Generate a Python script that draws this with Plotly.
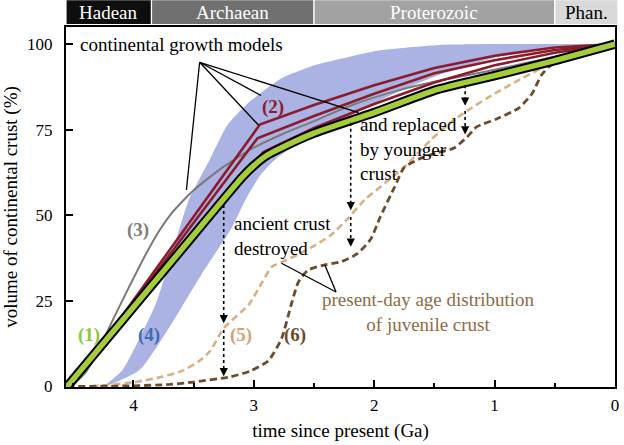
import plotly.graph_objects as go

# ---------------- data ----------------
# (1) green model
GREEN_T = [4.55, 4.3, 3.6, 3.1, 3.0, 2.9, 2.8, 2.5, 2.0, 1.5, 1.0, 0.5, 0.0]
GREEN_V = [0, 10.5, 40, 61, 64.5, 67.3, 69.2, 74, 80, 86.5, 90.8, 95.2, 100]

# (2) three red models (kinked)
RED1_T = [4.3, 2.95, 2.5, 2.0, 1.5, 1.0, 0.5, 0.0]
RED1_V = [10.5, 76.5, 82.2, 88, 93, 96.6, 99, 100]
RED2_T = [4.3, 2.97, 2.5, 2.0, 1.5, 1.0, 0.5, 0.0]
RED2_V = [10.5, 72.5, 79, 85.5, 91.5, 95.3, 98.3, 100]
RED3_T = [4.3, 2.92, 2.5, 2.0, 1.5, 1.0, 0.5, 0.0]
RED3_V = [10.5, 68.5, 75.5, 82.5, 88.8, 93.8, 97.5, 100]

# (3) grey model
GREY_T = [4.52, 4.4, 4.3, 4.18, 4.04, 3.87, 3.78, 3.69, 3.6, 3.5, 3.4, 3.27, 3.15, 3.03,
          2.77, 2.5, 2.2, 1.8, 1.5, 1.0, 0.5, 0.0]
GREY_V = [0, 4, 10, 18.8, 28.8, 40.4, 45.8, 50.3, 53.8, 57.3, 60.2, 63.7, 66.5, 69.2,
          73.6, 77.5, 82, 86.5, 89, 92.5, 96.3, 100]

# (4) blue band
BAND_TOP_T = [4.24, 4.09, 3.95, 3.81, 3.67, 3.54, 3.36, 3.22, 3.04, 2.77, 2.49, 2.22, 1.95, 1.48, 1.0, 0.5, 0.0]
BAND_TOP_V = [0, 4.8, 14, 24.5, 40, 54.5, 66.7, 76.3, 83, 90, 93.9, 96.2, 98.2, 99.7, 100, 100, 100]
BAND_BOT_T = [4.24, 3.95, 3.70, 3.43, 3.18, 3.07, 2.95, 2.8, 2.5, 2.2, 1.9, 1.5, 1.0, 0.5, 0.0]
BAND_BOT_V = [0, 4.8, 17.4, 33, 46.6, 54.5, 61.5, 67, 73.5, 79, 84.5, 90.5, 96, 99.2, 100]

# (5) light dashed, present-day distribution
TAN_T = [4.35, 4.0, 3.77, 3.6, 3.45, 3.36, 3.25, 3.04, 2.93, 2.85, 2.77, 2.63, 2.49, 2.36, 2.22,
         2.08, 1.91, 1.75, 1.53, 1.37, 1.23, 1.05, 0.83, 0.61, 0.42, 0.22, 0.0]
TAN_V = [0, 1.2, 2.8, 4.5, 7.5, 10.5, 17, 24, 30.5, 35, 36.3, 38.6, 41.3, 44.2, 49,
         54.5, 59.4, 64.1, 72, 77, 80.5, 84.5, 88.9, 93, 95.9, 97.7, 100]

# (6) dark dashed
DARK_T = [4.55, 4.0, 3.7, 3.5, 3.2, 3.03, 2.88, 2.77, 2.69, 2.63, 2.55, 2.41, 2.27, 2.14, 2.03,
          1.95, 1.83, 1.75, 1.61, 1.48, 1.34, 1.23, 1.15, 0.98, 0.8, 0.69, 0.61, 0.53, 0.36, 0.2, 0.0]
DARK_V = [0, 0.2, 0.6, 1.3, 2.8, 4.5, 7.5, 14, 23.8, 30.5, 34, 35.5, 36.5, 38.8, 43,
          49.5, 58.3, 64, 66.7, 68.2, 69.6, 72.8, 75.8, 78.2, 81.3, 85.5, 91, 93.9, 95.9, 97.7, 100]

# geological eons
EON_NAMES = ["Hadean", "Archaean", "Proterozoic", "Phan."]
EON_START = [4.56, 3.85, 2.5, 0.5]
EON_END = [3.85, 2.5, 0.5, -0.025]
EON_FILL = ["#0e0e0e", "#707070", "#a2a2a2", "#d9d9d9"]
EON_TEXT = ["white", "white", "white", "black"]

X_TICKS = [4, 3, 2, 1, 0]
X_MINOR = [4.5, 3.5, 2.5, 1.5, 0.5]
Y_TICKS = [0, 25, 50, 75, 100]
X_RANGE = [4.56, 0.0]
Y_RANGE = [-0.15, 105]

FONT = "Liberation Serif, Times New Roman, DejaVu Serif, serif"

fig = go.Figure()

# blue band
fig.add_trace(go.Scatter(
    x=BAND_TOP_T + BAND_BOT_T[::-1], y=BAND_TOP_V + BAND_BOT_V[::-1],
    fill="toself", fillcolor="rgb(170,179,227)", line=dict(width=0, shape="spline", smoothing=0.6),
    mode="lines", hoverinfo="skip"))

# dashed present-day curves
fig.add_trace(go.Scatter(x=TAN_T, y=TAN_V, mode="lines",
                         line=dict(color="#d8b085", width=2.6, dash="7px,4px", shape="spline", smoothing=0.6)))
fig.add_trace(go.Scatter(x=DARK_T, y=DARK_V, mode="lines",
                         line=dict(color="#6d4b2b", width=2.8, dash="7px,4px", shape="spline", smoothing=0.6)))

# grey model
fig.add_trace(go.Scatter(x=GREY_T, y=GREY_V, mode="lines",
                         line=dict(color="#7a7a7a", width=2, shape="spline", smoothing=0.7)))

# red models
for rt, rv in [(RED1_T, RED1_V), (RED2_T, RED2_V), (RED3_T, RED3_V)]:
    fig.add_trace(go.Scatter(x=rt, y=rv, mode="lines",
                             line=dict(color="#8b1c2c", width=2.6)))

# green model with black outline
fig.add_trace(go.Scatter(x=GREEN_T, y=GREEN_V, mode="lines",
                         line=dict(color="black", width=9.5, shape="spline", smoothing=0.5)))
fig.add_trace(go.Scatter(x=GREEN_T, y=GREEN_V, mode="lines",
                         line=dict(color="#a5cd39", width=5.5, shape="spline", smoothing=0.5)))

shapes = []
annotations = []

# eon bar (paper coordinates computed from axis range)
def to_paper(t):
    return (X_RANGE[0] - t) / (X_RANGE[0] - X_RANGE[1])

for name, s, e, fc, tc in zip(EON_NAMES, EON_START, EON_END, EON_FILL, EON_TEXT):
    shapes.append(dict(type="rect", xref="paper", yref="paper",
                       x0=to_paper(s), x1=to_paper(e), y0=1.007, y1=1.076,
                       fillcolor=fc, line=dict(color="white", width=1.2), layer="above"))
    annotations.append(dict(xref="paper", yref="paper", x=(to_paper(s) + to_paper(e)) / 2, y=1.0415,
                            text=name, showarrow=False, font=dict(color=tc, size=19, family=FONT),
                            xanchor="center", yanchor="middle"))

# pointer lines: continental growth models
GROWTH_VERTEX = (3.45, 94.7)
GROWTH_TARGETS = [(3.56, 57.4), (2.96, 76.3), (2.94, 85.0), (2.13, 80.0)]
for tx, ty in GROWTH_TARGETS:
    shapes.append(dict(type="line", xref="x", yref="y", x0=GROWTH_VERTEX[0], y0=GROWTH_VERTEX[1],
                       x1=tx, y1=ty, line=dict(color="black", width=1.3), layer="above"))

# pointer lines: present-day distribution
PD_VERTEX = (2.317, 27.6)
PD_TARGETS = [(2.77, 36.0), (2.41, 35.5)]
for tx, ty in PD_TARGETS:
    shapes.append(dict(type="line", xref="x", yref="y", x0=PD_VERTEX[0], y0=PD_VERTEX[1],
                       x1=tx, y1=ty, line=dict(color="black", width=1.3), layer="above"))

# dotted arrows: (x, start, tip1, restart, tip2)
ARROWS = [(3.25, 53.0, 18.5, 16.5, 3.0),
          (2.195, 77.0, 51.5, 49.5, 40.8),
          (1.245, 88.0, 82.0, 80.5, 73.6)]
for ax_, y0, t1, y2, t2 in ARROWS:
    for a, b in [(y0, t1), (y2, t2)]:
        shapes.append(dict(type="line", xref="x", yref="y", x0=ax_, x1=ax_, y0=a, y1=b + 0.8,
                           line=dict(color="black", width=1.6, dash="dot"), layer="above"))
        annotations.append(dict(x=ax_, y=b, xref="x", yref="y", text="", showarrow=True,
                                ax=0, ay=-9, arrowhead=2, arrowsize=1.1, arrowwidth=1.5,
                                arrowcolor="black"))

# labels
def label(x, y, text, color="black", bold=False, xanchor="center", align="center", size=19):
    t = f"<b>{text}</b>" if bold else text
    annotations.append(dict(x=x, y=y, xref="x", yref="y", text=t, showarrow=False,
                            font=dict(color=color, size=size, family=FONT),
                            xanchor=xanchor, yanchor="middle", align=align))

label(3.6, 99.8, "continental growth models", xanchor="center")
label(2.84, 81.6, "(2)", "#8b1c2c", True)
label(3.96, 45.7, "(3)", "#7f7f7f", True)
label(4.37, 15.0, "(1)", "#8cc63f", True)
label(3.87, 15.0, "(4)", "#3d6db4", True)
label(3.11, 15.0, "(5)", "#d4a373", True)
label(2.66, 15.0, "(6)", "#6b4a2b", True)
label(3.18, 44.0, "ancient crust<br>destroyed", xanchor="left", align="left")
label(2.135, 69.5, "and replaced<br>by younger<br>crust", xanchor="left", align="left")
label(1.55, 21.9, "present-day age distribution<br>of juvenile crust", "#8f6b45")

fig.update_layout(
    width=624, height=445,
    margin=dict(l=66, r=5, t=27, b=58),
    plot_bgcolor="white", paper_bgcolor="white",
    showlegend=False,
    font=dict(family=FONT, size=19, color="black"),
    shapes=shapes, annotations=annotations,
    xaxis=dict(range=X_RANGE, tickmode="array", tickvals=X_TICKS, ticktext=[str(v) for v in X_TICKS],
               ticks="inside", ticklen=7, tickwidth=1.5, tickcolor="black",
               minor=dict(tickmode="array", tickvals=X_MINOR, ticks="inside", ticklen=4, tickwidth=1.5,
                          tickcolor="black"),
               showline=True, linewidth=2, linecolor="black", mirror=True,
               showgrid=False, zeroline=False, tickfont=dict(size=17, family=FONT),
               ticklabelstandoff=2,
               title=dict(text="time since present (Ga)", font=dict(size=19, family=FONT), standoff=9)),
    yaxis=dict(range=Y_RANGE, tickmode="array", tickvals=Y_TICKS,
               ticks="inside", ticklen=7, tickwidth=1.5, tickcolor="black",
               showline=True, linewidth=2, linecolor="black", mirror=True,
               showgrid=False, zeroline=False, tickfont=dict(size=17, family=FONT),
               ticklabelstandoff=8,
               title=dict(text="volume of continental crust (%)", font=dict(size=19, family=FONT), standoff=6)),
)

fig.write_html("out.html", post_script="document.body.style.margin='0';",
               config={"displayModeBar": False})
